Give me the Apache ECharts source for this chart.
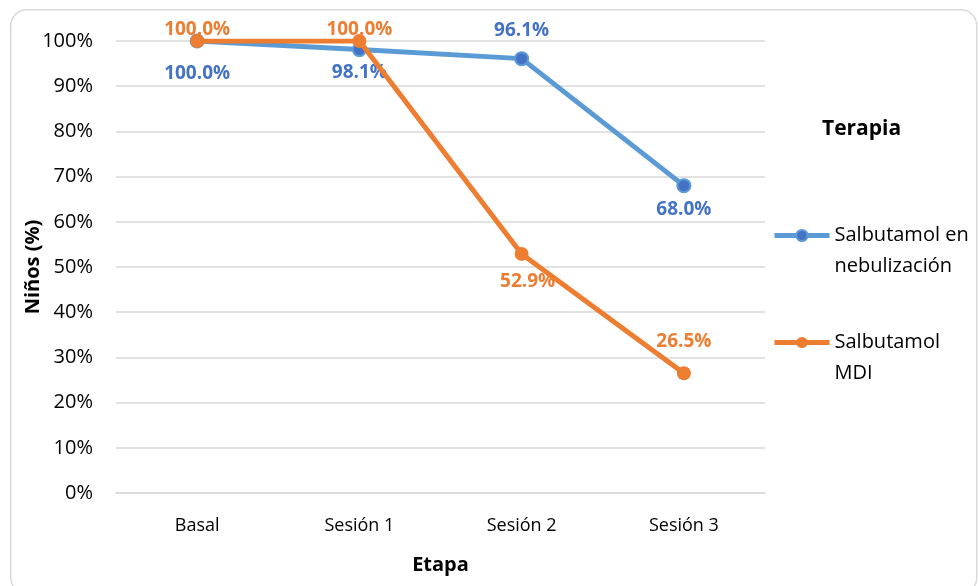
<!DOCTYPE html>
<html><head><meta charset="utf-8">
<script src="https://cdn.jsdelivr.net/npm/echarts@6/dist/echarts.min.js"></script>
<style>html,body{margin:0;padding:0;background:#fff}#c{width:978px;height:586px}</style>
</head><body><div id="c"></div>
<script>
const categories = ['Basal', 'Sesión 1', 'Sesión 2', 'Sesión 3'];
const nebulizacion = [100.0, 98.1, 96.1, 68.0];
const mdi = [100.0, 100.0, 52.9, 26.5];
const seriesNames = ['Salbutamol en\nnebulización', 'Salbutamol\nMDI'];
const yTicks = [0, 10, 20, 30, 40, 50, 60, 70, 80, 90, 100];

// label placement offsets (style, px relative to the point)
const nebOffset = [[0, 33], [0, 23], [0, -28], [0, 24]];
const mdiOffset = [[0, -11], [0, -11], [6, 28], [0, -32]];
const FONT = 'Open Sans';

function build(vals, offs) {
  return vals.map((v, i) => ({ value: v, label: { position: 'inside', offset: offs[i] } }));
}

const chart = echarts.init(document.getElementById('c'), null, {renderer: 'canvas'});
chart.setOption({
  animation: false,
  textStyle: { fontFamily: FONT },
  graphic: [{
    type: 'rect', left: 10, top: 9, z: -10, silent: true,
    shape: { width: 966, height: 584, r: 16 },
    style: { fill: '#fff', stroke: '#d9d9d9', lineWidth: 1.5 }
  }, {
    type: 'text', left: 822, top: 119,
    style: { text: 'Terapia', font: 'bold 21px "Open Sans"', fill: '#000' }
  }],
  grid: { left: 116, right: 213, top: 41, bottom: 93, containLabel: false },
  legend: {
    orient: 'vertical', left: 772, top: 189, itemWidth: 55, itemHeight: 14,
    itemGap: 14, padding: 0,
    lineStyle: { width: 5 },
    // leading blank line keeps the marker aligned with the first text line
    formatter: name => '\n' + name,
    textStyle: { fontSize: 20, fontFamily: FONT, color: '#000', lineHeight: 31 },
    data: seriesNames
  },
  xAxis: {
    type: 'category', data: categories, boundaryGap: true,
    name: 'Etapa', nameLocation: 'middle', nameGap: 62,
    nameTextStyle: { fontSize: 20, fontWeight: 'bold', color: '#000', fontFamily: FONT },
    axisLine: { show: true, lineStyle: { color: '#d9d9d9', width: 1.5 } },
    axisTick: { show: false },
    axisLabel: { fontSize: 18, color: '#000', margin: 24, fontFamily: FONT }
  },
  yAxis: {
    type: 'value', min: 0, max: 100, interval: 10,
    name: 'Niños (%)', nameLocation: 'middle', nameGap: 73, nameRotate: 90,
    nameMoveOverlap: false,
    nameTextStyle: { fontSize: 20, fontWeight: 'bold', color: '#000', fontFamily: FONT },
    axisLine: { show: false }, axisTick: { show: false },
    splitLine: { lineStyle: { color: '#d9d9d9', width: 1.5 } },
    axisLabel: { fontSize: 20, color: '#000', margin: 23, fontFamily: FONT,
      formatter: v => yTicks.includes(v) ? v + '%' : '' }
  },
  series: [{
    name: seriesNames[0], type: 'line', data: build(nebulizacion, nebOffset),
    symbol: 'circle', symbolSize: 13,
    lineStyle: { color: '#5B9BD5', width: 5 },
    itemStyle: { color: '#4472C4', borderColor: '#5B9BD5', borderWidth: 2 },
    label: { show: true, fontSize: 19, fontWeight: 'bold', color: '#4472C4',
      fontFamily: FONT, formatter: p => p.value.toFixed(1) + '%' },
    z: 2
  }, {
    name: seriesNames[1], type: 'line', data: build(mdi, mdiOffset),
    symbol: 'circle', symbolSize: 14,
    lineStyle: { color: '#ED7D31', width: 5 },
    itemStyle: { color: '#ED7D31' },
    label: { show: true, fontSize: 19, fontWeight: 'bold', color: '#ED7D31',
      fontFamily: FONT, formatter: p => p.value.toFixed(1) + '%' },
    z: 3
  }]
});
</script></body></html>
